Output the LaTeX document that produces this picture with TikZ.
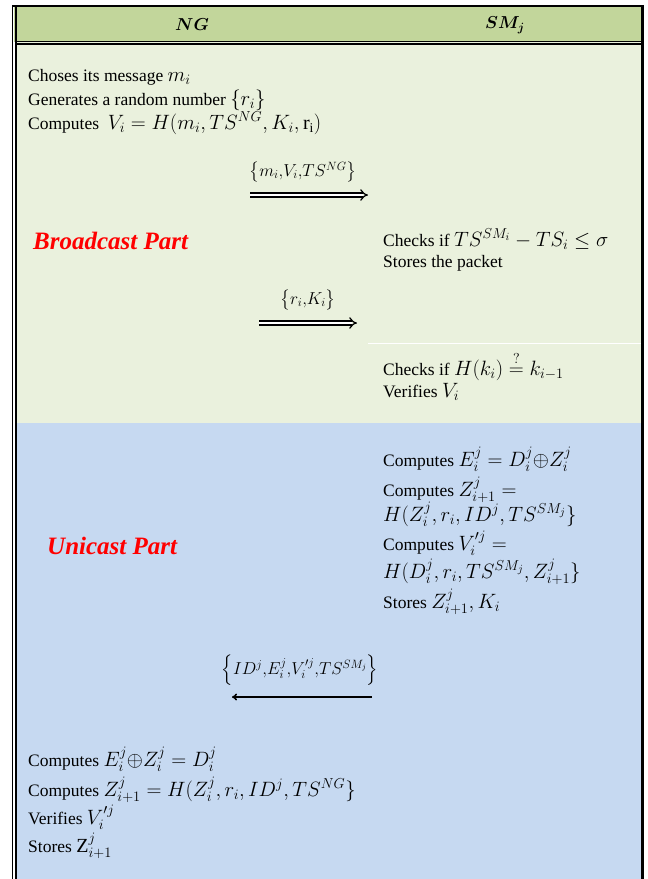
\documentclass[tikz,border=0pt]{standalone}
\usepackage{amsmath,amssymb,bm}
\usepackage{fontspec}
\setmainfont{Liberation Serif}
\usetikzlibrary{arrows.meta}
\DeclareMathSizes{17.5}{20}{13.5}{10.5}
\definecolor{hdrgreen}{HTML}{C2D69B}
\definecolor{lightgreen}{HTML}{EAF1DD}
\definecolor{lightblue}{HTML}{C6D9F1}
\definecolor{partred}{HTML}{FF0000}
\begin{document}
\begin{tikzpicture}[x=1pt,y=-1pt,
  txt/.style={anchor=base west,inner sep=0pt,font=\fontsize{17.5}{24}\selectfont},
  part/.style={anchor=base west,inner sep=0pt,text=partred,font=\fontsize{25}{28}\selectfont\bfseries\itshape},
  hdr/.style={inner sep=0pt,font=\fontsize{18.5}{22}\selectfont},
  lbl/.style={inner sep=0pt,font=\fontsize{17}{22}\selectfont},
  dblarrow/.style={double distance=2.6pt,line width=1.25pt,-{Implies[length=6pt]}},
  sglarrow/.style={line width=1.6pt,-{To[length=5pt,width=7pt]}}]
\useasboundingbox (0,0) rectangle (648,879);
% backgrounds
\fill[hdrgreen] (14,6) rectangle (642,42);
\fill[lightgreen] (16,42) rectangle (641,423);
\fill[lightblue] (16,423) rectangle (641,879);
% borders
\draw[line width=2pt] (12,6) -- (644,6);
\draw[line width=1.5pt] (12.7,5) -- (12.7,879);
\draw[line width=1.9pt] (15.8,6) -- (15.8,879);
\draw[line width=3pt] (642.5,5) -- (642.5,879);
\draw[line width=1.4pt] (16,41.2) -- (641,41.2);
\draw[line width=1.4pt] (16,43.8) -- (641,43.8);
\draw[white,line width=0.6pt] (368,343) -- (641,343);
% header
\node[hdr] (hng) at (192,25) {$\bm{NG}$};
\node[hdr] (hsm) at (505,25) {$\bm{SM_j}$};
% broadcast part, NG side
\node[txt] (n1) at (28,81) {Choses its message $m_i$};
\node[txt] (n2) at (28,105) {Generates a random number $\{r_i\}$};
\node[txt] (n3) at (28,129) {Computes\ \ $V_i = H(m_i, TS^{NG}, K_i, \mathrm{r_i})$};
\node[part] (bp) at (33,249) {Broadcast Part};
% arrow 1
\coordinate (a1s) at (250,195);
\coordinate (a1e) at (368,195);
\draw[dblarrow] (a1s) -- (a1e);
\node[lbl] (l1) at (303,172) {$\bigl\{m_i{,}V_i{,}TS^{NG}\bigr\}$};
% SM side broadcast
\node[txt] (s1) at (383,246) {Checks if $TS^{SM_i} - TS_i \le \sigma$};
\node[txt] (s2) at (383,267) {Stores the packet};
% arrow 2
\coordinate (a2s) at (259,323);
\coordinate (a2e) at (357,323);
\draw[dblarrow] (a2s) -- (a2e);
\node[lbl] (l2) at (308,300) {$\bigl\{r_i{,}K_i\bigr\}$};
\node[txt] (s3) at (383,375) {Checks if $H(k_i) \overset{?}{=} k_{i-1}$};
\node[txt] (s4) at (383,397) {Verifies $V_i$};
% unicast part
\node[part] (up) at (47,554) {Unicast Part};
\node[txt] (u1) at (383,466) {Computes $E_i^j = D_i^j {\oplus} Z_i^j$};
\node[txt] (u2) at (383,496) {Computes $Z_{i+1}^j =$};
\node[txt] (u3) at (383,521) {$H(Z_i^j, r_i, ID^j, TS^{SM_j}\}$};
\node[txt] (u4) at (383,550) {Computes $V'^{j}_{i} =$};
\node[txt] (u5) at (383,578) {$H(D_i^j, r_i, TS^{SM_j}, Z_{i+1}^j\}$};
\node[txt] (u6) at (383,608) {Stores $Z_{i+1}^j, K_i$};
% arrow 3
\coordinate (a3s) at (372,697);
\coordinate (a3e) at (232,697);
\draw[sglarrow] (a3s) -- (a3e);
\node[lbl] (l3) at (300,670) {$\left\{ID^j{,}E_i^j{,}V'^{j}_{i}{,}TS^{SM_j}\right\}$};
% NG side unicast
\node[txt] (g1) at (28,766) {Computes $E_i^j {\oplus} Z_i^j = D_i^j$};
\node[txt] (g2) at (28,796) {Computes $Z_{i+1}^j = H(Z_i^j, r_i, ID^j, TS^{NG}\}$};
\node[txt] (g3) at (28,824) {Verifies $V'^{j}_{i}$};
\node[txt] (g4) at (28,852) {Stores $\mathrm{Z}_{i+1}^j$};
\end{tikzpicture}
\end{document}
